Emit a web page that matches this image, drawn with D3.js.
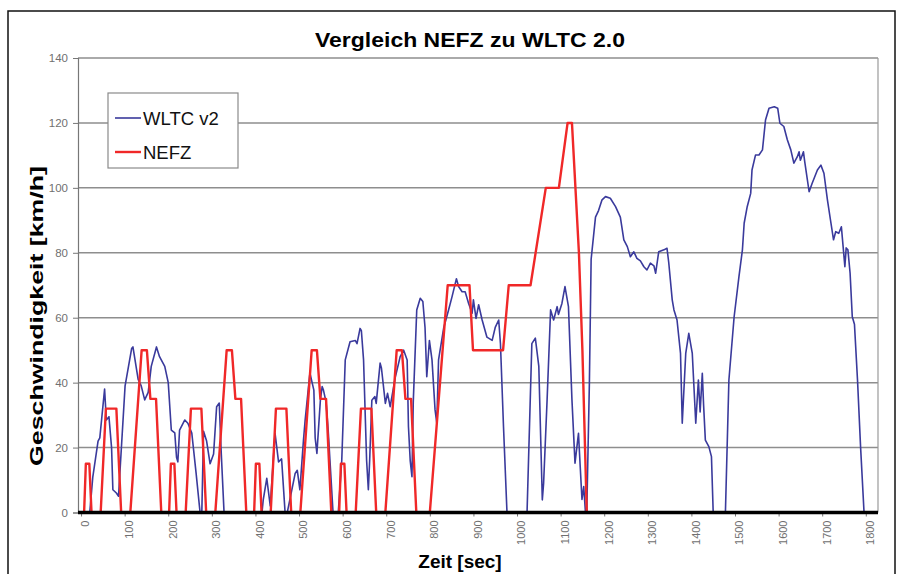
<!DOCTYPE html>
<html>
<head>
<meta charset="utf-8">
<script src="https://cdn.jsdelivr.net/npm/d3@7"></script>
<style>
  body { margin: 0; background: #fff; }
  svg { display: block; font-family: Arial, "Liberation Sans", sans-serif; }
</style>
</head>
<body>
<svg id="chart" width="902" height="574"></svg>
<script>
// Speed traces (time in s, speed in km/h)
const wltcTime = [0,12,20,27,39,43,54,58,64,70,73,81,86,89,101,116,119,131,138,146,154,161,173,180,192,200,207,215,219,222,226,238,245,254,264,273,277,281,288,296,304,311,317,321,328,415,418,426,434,445,453,460,468,473,491,496,502,510,514,525,530,534,537,541,549,553,556,562,567,578,590,598,606,617,629,633,640,643,648,655,659,662,667,674,677,686,689,698,703,709,721,732,740,748,751,755,759,762,770,778,784,789,793,799,805,812,816,820,832,843,851,861,866,874,881,889,897,900,906,912,920,931,943,950,958,962,969,977,1023,1034,1042,1050,1058,1061,1069,1077,1084,1092,1095,1103,1110,1118,1126,1133,1141,1145,1149,1153,1157,1160,1166,1170,1180,1187,1195,1203,1214,1226,1237,1245,1253,1260,1268,1275,1283,1291,1298,1306,1314,1318,1325,1337,1344,1348,1356,1360,1367,1375,1379,1387,1394,1402,1410,1416,1420,1425,1428,1432,1440,1446,1450,1478,1486,1498,1509,1517,1521,1528,1536,1539,1547,1555,1563,1570,1578,1590,1598,1603,1612,1620,1628,1635,1643,1647,1650,1657,1660,1670,1677,1689,1697,1704,1712,1719,1726,1731,1738,1744,1748,1752,1755,1759,1764,1769,1774,1781,1788,1796,1800];
const wltcSpeed = [0,0,0,11,22,23,38,28.5,29.5,20,7,6,5,12,39,50.5,51,41,39,34.7,37,45,51,48,45,40,25.4,24.5,17,15.6,25.4,28.5,27.5,24.5,12,0,0,25,22,15,18,32.6,33.7,20,0,0,4,10.5,2,24.4,15.6,16.5,0,0,12,13,7,22,28.5,43,40,37.7,23,18.2,34.7,38.8,37.7,34,25,0,0,16,47,52.6,53,52,56.7,56,47,16,7,16,34.6,35.7,33.6,46,44.5,33.6,36.7,32.6,41.8,48,50,47,26.4,16,11,34,62.4,66,65,57,41.8,53,47,31.6,27.5,47,57,62.4,66.5,72,69.6,68,68,64.4,61.4,65.5,59.8,64,59.3,54,53,57,59.3,52,26.4,0,0,52,53.7,45,3.9,9,34.7,62.4,59.3,63.4,61,64.4,69.6,63.4,34.7,15.2,24.4,14,4,8,0,0,40,78,91,93,96.3,97.3,96.8,94.2,91,84,81.9,78.8,80.3,78.3,77.5,75.7,74.7,76.8,76,73.7,80.3,80.9,81.4,77,65.5,62.4,59.3,49,27.5,49,55.2,49,27.5,40.8,31,42.9,33,22.3,20.3,17.2,0,0,40.8,60.3,72.6,80.9,89.1,94.2,98.3,105.5,110.1,110.1,111.7,120.9,124.5,125,124.5,119.9,118.9,114.8,111.7,107.6,109.6,111.1,108.5,111.1,108,98.8,101.4,105.5,107,104.5,96.3,90.1,84,86.5,86,88,81.9,75.7,81.5,80.9,73.7,60.3,58,40.8,20.3,0,0];

const nefzTime = [0,7,11,19,24,45,57,81,92,113,139,151,159,172,184,
  202,206,214,219,240,252,276,287,308,334,346,354,367,379,
  397,401,409,414,435,447,471,482,503,529,541,549,562,574,
  592,596,604,609,630,642,666,677,698,724,736,744,757,769,
  800,841,891,899,968,981,1031,1066,1096,1116,1126,1142,1150,1160,1180];
const nefzSpeed = [0,0,15,15,0,0,32,32,0,0,50,50,35,35,0,
  0,15,15,0,0,32,32,0,0,50,50,35,35,0,
  0,15,15,0,0,32,32,0,0,50,50,35,35,0,
  0,15,15,0,0,32,32,0,0,50,50,35,35,0,
  0,70,70,50,50,70,70,100,100,120,120,80,50,0,0];

const yTicks = [0, 20, 40, 60, 80, 100, 120, 140];
const xTicks = [0, 100, 200, 300, 400, 500, 600, 700, 800, 900, 1000, 1100, 1200, 1300, 1400, 1500, 1600, 1700, 1800];
const seriesNames = ["WLTC v2", "NEFZ"];
const seriesColors = ["#3a3a9c", "#f02828"];

const svg = d3.select('#chart');

// Plot area bounds
const plotLeft = 78, plotRight = 878, plotTop = 58, plotBottom = 512.5;

const x = d3.scaleLinear().domain([-7, 1828]).range([plotLeft, plotRight]);
const y = d3.scaleLinear().domain([0, 140]).range([plotBottom, plotTop]);

// Outer frame
svg.append('rect')
  .attr('x', 8).attr('y', 11).attr('width', 887).attr('height', 570)
  .attr('fill', '#fff').attr('stroke', '#111').attr('stroke-width', 1.5);

// Horizontal gridlines (including the top border of the plot area)
svg.append('g')
  .selectAll('line')
  .data(yTicks.filter(d => d > 0))
  .join('line')
  .attr('x1', plotLeft).attr('x2', plotRight)
  .attr('y1', d => y(d)).attr('y2', d => y(d))
  .attr('stroke', '#8e8e8e').attr('stroke-width', 1.5);

// Right border of plot area
svg.append('line')
  .attr('x1', plotRight).attr('x2', plotRight).attr('y1', plotTop).attr('y2', plotBottom)
  .attr('stroke', '#9a9a9a').attr('stroke-width', 1.2);

// Y axis
const yAxis = svg.append('g')
  .attr('transform', `translate(${plotLeft},0)`)
  .call(d3.axisLeft(y).tickValues(yTicks).tickSize(5).tickPadding(5));
yAxis.select('.domain').attr('stroke', '#777').attr('stroke-width', 1.2);
yAxis.selectAll('.tick line').attr('stroke', '#777');
yAxis.selectAll('.tick text')
  .attr('font-size', 11.5).attr('fill', '#707070')
  .attr('font-family', 'Arial, "Liberation Sans", sans-serif');

// X axis with rotated labels (plain integers, no thousands separator)
const xAxis = svg.append('g')
  .attr('transform', `translate(0,${plotBottom})`)
  .call(d3.axisBottom(x).tickValues(xTicks).tickFormat(d3.format('d')).tickSize(4).tickPadding(0));
xAxis.select('.domain').remove();
xAxis.selectAll('.tick line').attr('stroke', '#777');
xAxis.selectAll('.tick text')
  .attr('font-size', 11).attr('fill', '#707070')
  .attr('font-family', 'Arial, "Liberation Sans", sans-serif')
  .attr('text-anchor', 'end')
  .attr('dy', '0.35em')
  .attr('transform', 'translate(0,8) rotate(-90)');

// Series lines
const line = d3.line().x(d => x(d[0])).y(d => y(d[1]));
const wltcData = wltcTime.map((t, i) => [t, wltcSpeed[i]]);
const nefzData = nefzTime.map((t, i) => [t, nefzSpeed[i]]);

svg.append('path')
  .datum(wltcData)
  .attr('d', line)
  .attr('fill', 'none')
  .attr('stroke', seriesColors[0])
  .attr('stroke-width', 1.6)
  .attr('stroke-linejoin', 'round');

svg.append('path')
  .datum(nefzData)
  .attr('d', line)
  .attr('fill', 'none')
  .attr('stroke', seriesColors[1])
  .attr('stroke-width', 2.4)
  .attr('stroke-linejoin', 'round');

// Thick zero line
svg.append('line')
  .attr('x1', plotLeft).attr('x2', plotRight).attr('y1', y(0)).attr('y2', y(0))
  .attr('stroke', '#000').attr('stroke-width', 3.5);

// Title and axis titles
svg.append('text')
  .attr('x', 470).attr('y', 47)
  .attr('text-anchor', 'middle')
  .attr('font-size', 21).attr('font-weight', 'bold')
  .attr('textLength', 310).attr('lengthAdjust', 'spacingAndGlyphs')
  .text('Vergleich NEFZ zu WLTC 2.0');

svg.append('text')
  .attr('transform', 'translate(43,316) rotate(-90)')
  .attr('text-anchor', 'middle')
  .attr('font-size', 19).attr('font-weight', 'bold')
  .attr('textLength', 300).attr('lengthAdjust', 'spacingAndGlyphs')
  .text('Geschwindigkeit [km/h]');

svg.append('text')
  .attr('x', 460).attr('y', 568)
  .attr('text-anchor', 'middle')
  .attr('font-size', 19).attr('font-weight', 'bold')
  .text('Zeit [sec]');

// Legend
const legendG = svg.append('g').attr('transform', 'translate(108,93)');
legendG.append('rect')
  .attr('width', 130).attr('height', 75)
  .attr('fill', '#fff').attr('stroke', '#8a8a8a').attr('stroke-width', 1.2);

const legendItem = legendG.selectAll('g.item')
  .data(seriesNames)
  .join('g')
  .attr('class', 'item')
  .attr('transform', (d, i) => `translate(0,${25 + i * 34})`);
legendItem.append('line')
  .attr('x1', 7).attr('x2', 33)
  .attr('stroke', (d, i) => seriesColors[i])
  .attr('stroke-width', (d, i) => i === 0 ? 1.6 : 2.4);
legendItem.append('text')
  .attr('x', 35).attr('dy', '0.36em')
  .attr('font-size', 18.5).attr('fill', '#111')
  .text(d => d);
</script>
</body>
</html>
